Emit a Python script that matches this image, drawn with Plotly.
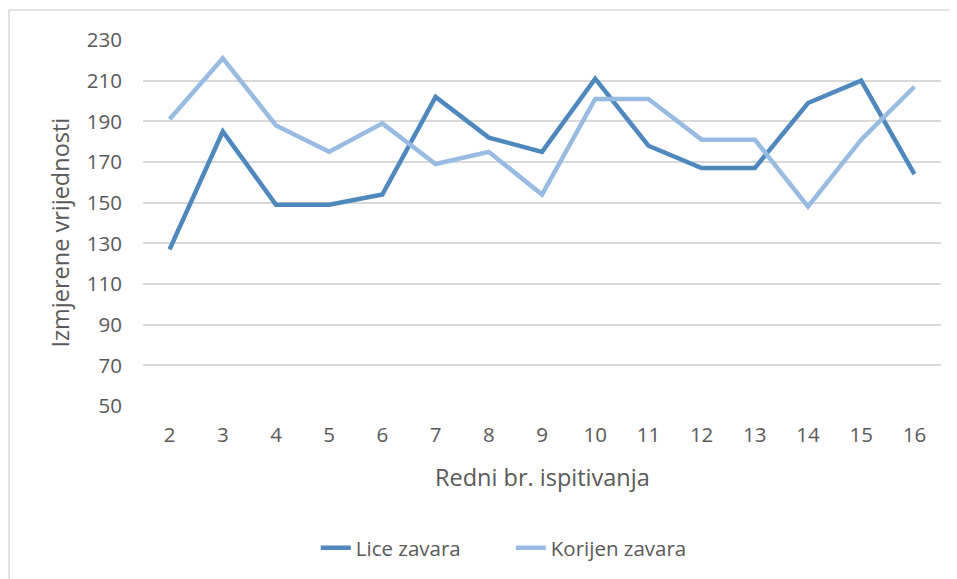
import plotly.graph_objects as go

categories = ["2", "3", "4", "5", "6", "7", "8", "9", "10", "11", "12", "13", "14", "15", "16"]
lice_zavara = [127, 185, 149, 149, 154, 202, 182, 175, 211, 178, 167, 167, 199, 210, 164]
korijen_zavara = [191, 221, 188, 175, 189, 169, 175, 154, 201, 201, 181, 181, 148, 181, 207]
y_ticks = [50, 70, 90, 110, 130, 150, 170, 190, 210, 230]

FONT = "Open Sans"
TXT = "#595959"
FS = 20.5
FT = 23.5

fig = go.Figure()
fig.add_trace(go.Scatter(x=categories, y=lice_zavara, mode="lines", name="Lice zavara",
                         line=dict(color="#4F88BD", width=4.5, shape="linear")))
fig.add_trace(go.Scatter(x=categories, y=korijen_zavara, mode="lines", name="Korijen zavara",
                         line=dict(color="#98BBE1", width=4.5, shape="linear")))

fig.update_layout(
    width=949, height=571,
    margin=dict(l=135, r=16, t=32, b=172),
    paper_bgcolor="white", plot_bgcolor="white",
    font=dict(family=FONT, size=FS, color=TXT),
    showlegend=True,
    legend=dict(orientation="h", x=0.2165, xanchor="left", y=-0.384, yanchor="middle",
                font=dict(family=FONT, size=FS, color=TXT), entrywidth=150,
                entrywidthmode="pixels", tracegroupgap=0),
    xaxis=dict(type="category", range=[-0.5, 14.5], showgrid=False, zeroline=False,
               showline=False, ticks="outside", ticklen=10, tickcolor="rgba(0,0,0,0)",
               tickfont=dict(family=FONT, size=FS, color=TXT)),
    yaxis=dict(range=[50, 230], tickvals=y_ticks, showgrid=True, gridcolor="#D9D9D9",
               gridwidth=1.5, zeroline=False, showline=False, ticks="outside", ticklen=16,
               tickcolor="rgba(0,0,0,0)", tickfont=dict(family=FONT, size=FS, color=TXT)),
    shapes=[dict(type="rect", xref="paper", yref="paper", x0=-0.1679, x1=1.1, y0=-0.7, y1=1.0817,
                 line=dict(color="#D9D9D9", width=1.5), fillcolor="rgba(0,0,0,0)", layer="below")],
    annotations=[
        dict(text="Redni br. ispitivanja", xref="paper", yref="paper", x=0.5, y=-0.1935,
             showarrow=False, xanchor="center", yanchor="middle",
             font=dict(family=FONT, size=FT, color=TXT)),
        dict(text="Izmjerene vrijednosti", xref="paper", yref="paper", x=-0.104, y=0.474,
             showarrow=False, xanchor="center", yanchor="middle", textangle=-90,
             font=dict(family=FONT, size=FT, color=TXT)),
    ],
)

fig.write_html("out.html")
